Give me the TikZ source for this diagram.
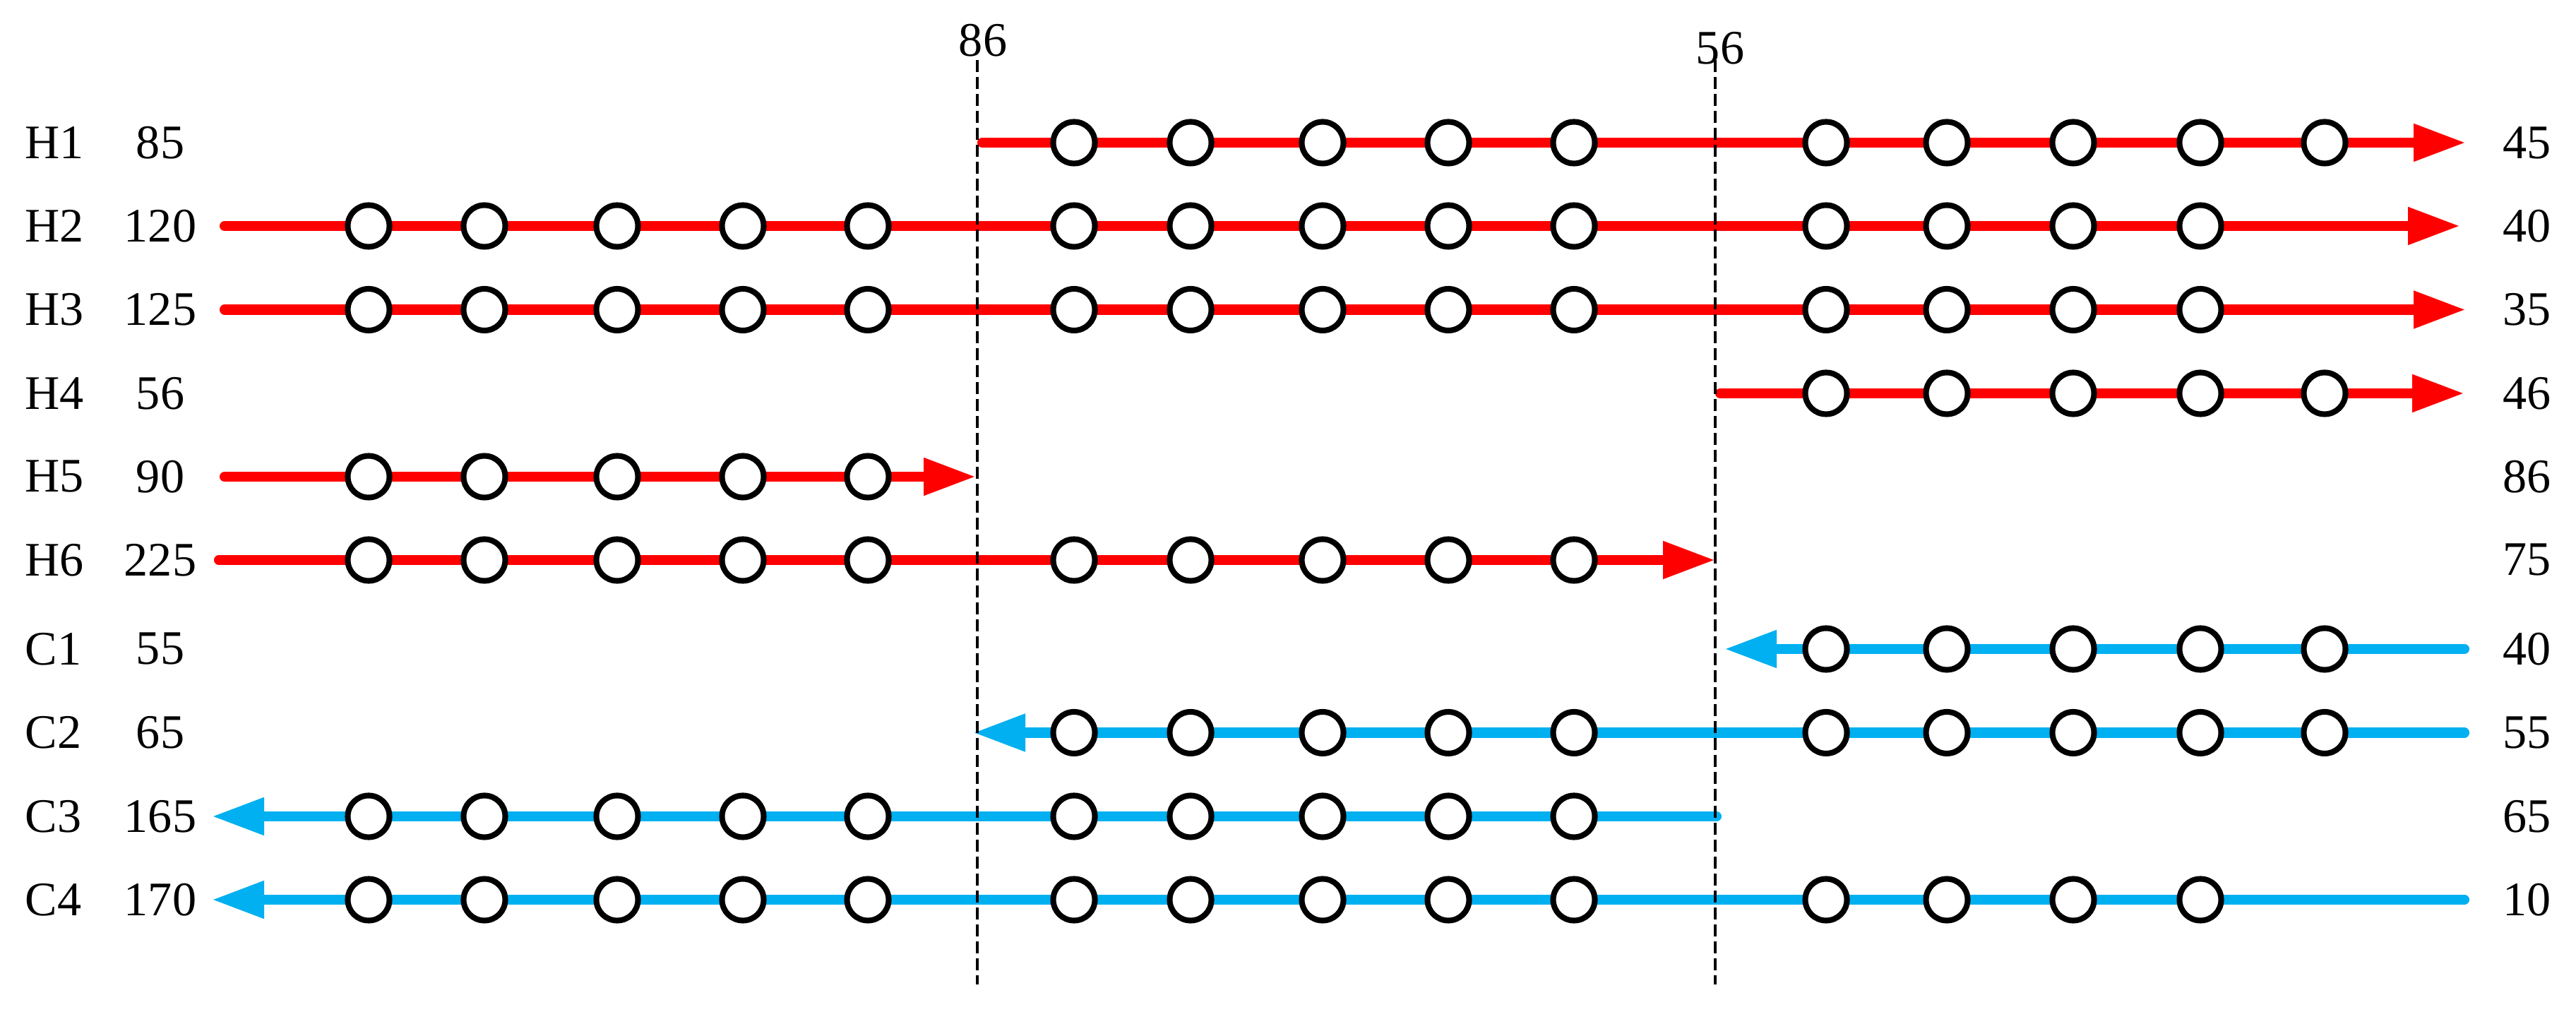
\documentclass[tikz,border=0pt]{standalone}
\usepackage{fontspec}
\setmainfont{Liberation Serif}
\usepackage{tikz}
\usetikzlibrary{arrows.meta}

\definecolor{hotred}{RGB}{255,0,0}
\definecolor{coldblue}{RGB}{0,176,240}

\tikzset{
  stream/.style={line width=4pt, line cap=round, -{Triangle[length=7.4mm,width=5mm]}},
  hot/.style={stream, hotred},
  cold/.style={stream, coldblue},
  hx/.style={circle, draw=black, fill=white, line width=2.3pt, minimum size=5.9mm, inner sep=0pt},
  lbl/.style={font=\fontsize{19.4}{23}\selectfont, inner sep=0pt},
  pinch/.style={black, line width=0.95pt, dash pattern=on 1.7mm off 0.7mm},
}

% exchanger circles along one stream
\newcommand\hxrow[3]{%
  \foreach \x [count=\cnt] in #3 {\node[hx] (#1-\cnt) at (\x,#2) {};}}

\def\cola{5.22,6.86,8.74,10.52,12.29}
\def\colb{15.21,16.86,18.73,20.51,22.29}
\def\colc{25.86,27.57,29.36,31.16,32.92}
\def\colcf{25.86,27.57,29.36,31.16}

\begin{document}
\begin{tikzpicture}[y=-1cm]
        \useasboundingbox (0,0) rectangle (36.48,14.33);

        % Stream names, supply and target temperatures
        \foreach \s/\yy/\tin/\tout in {H1/2.02/85/45, H2/3.20/120/40, H3/4.385/125/35,
            H4/5.57/56/46, H5/6.75/90/86, H6/7.93/225/75, C1/9.19/55/40,
            C2/10.375/65/55, C3/11.56/165/65, C4/12.74/170/10} {
          \node[lbl, anchor=west] (n\s) at (0.35,\yy) {\s};
          \node[lbl] (in\s) at (2.27,\yy) {\tin};
          \node[lbl, anchor=west] (out\s) at (35.44,\yy) {\tout};
        }

        % Hot streams
        \coordinate (H1s) at (13.91,2.02);  \coordinate (H1e) at (34.92,2.02);
        \coordinate (H2s) at (3.18,3.20);   \coordinate (H2e) at (34.84,3.20);
        \coordinate (H3s) at (3.18,4.385);  \coordinate (H3e) at (34.92,4.385);
        \coordinate (H4s) at (24.36,5.57);  \coordinate (H4e) at (34.90,5.57);
        \coordinate (H5s) at (3.18,6.75);   \coordinate (H5e) at (13.82,6.75);
        \coordinate (H6s) at (3.10,7.93);   \coordinate (H6e) at (24.29,7.93);
        \draw[hot] (H1s) -- (H1e);
        \draw[hot] (H2s) -- (H2e);
        \draw[hot] (H3s) -- (H3e);
        \draw[hot] (H4s) -- (H4e);
        \draw[hot] (H5s) -- (H5e);
        \draw[hot] (H6s) -- (H6e);

        % Cold streams
        \coordinate (C1s) at (34.90,9.19);   \coordinate (C1e) at (24.42,9.19);
        \coordinate (C2s) at (34.90,10.375); \coordinate (C2e) at (13.78,10.375);
        \coordinate (C3s) at (24.31,11.56);  \coordinate (C3e) at (3.00,11.56);
        \coordinate (C4s) at (34.90,12.74);  \coordinate (C4e) at (3.00,12.74);
        \draw[cold] (C1s) -- (C1e);
        \draw[cold] (C2s) -- (C2e);
        \draw[cold] (C3s) -- (C3e);
        \draw[cold] (C4s) -- (C4e);

        % Pinch lines
        \node[lbl] (t86) at (13.92,0.57) {86};
        \node[lbl] (t56) at (24.36,0.68) {56};
        \coordinate (p86a) at (13.84,0.85); \coordinate (p86b) at (13.84,13.94);
        \coordinate (p56a) at (24.29,0.85); \coordinate (p56b) at (24.29,13.94);
        \draw[pinch] (p86a) -- (p86b);
        \draw[pinch] (p56a) -- (p56b);

        % Exchangers
        \hxrow{H1b}{2.02}{\colb}   \hxrow{H1c}{2.02}{\colc}
        \hxrow{H2a}{3.20}{\cola}   \hxrow{H2b}{3.20}{\colb}   \hxrow{H2c}{3.20}{\colcf}
        \hxrow{H3a}{4.385}{\cola}  \hxrow{H3b}{4.385}{\colb}  \hxrow{H3c}{4.385}{\colcf}
        \hxrow{H4c}{5.57}{\colc}
        \hxrow{H5a}{6.75}{\cola}
        \hxrow{H6a}{7.93}{\cola}   \hxrow{H6b}{7.93}{\colb}
        \hxrow{C1c}{9.19}{\colc}
        \hxrow{C2b}{10.375}{\colb} \hxrow{C2c}{10.375}{\colc}
        \hxrow{C3a}{11.56}{\cola}  \hxrow{C3b}{11.56}{\colb}
        \hxrow{C4a}{12.74}{\cola}  \hxrow{C4b}{12.74}{\colb}  \hxrow{C4c}{12.74}{\colcf}
    \end{tikzpicture}
\end{document}
